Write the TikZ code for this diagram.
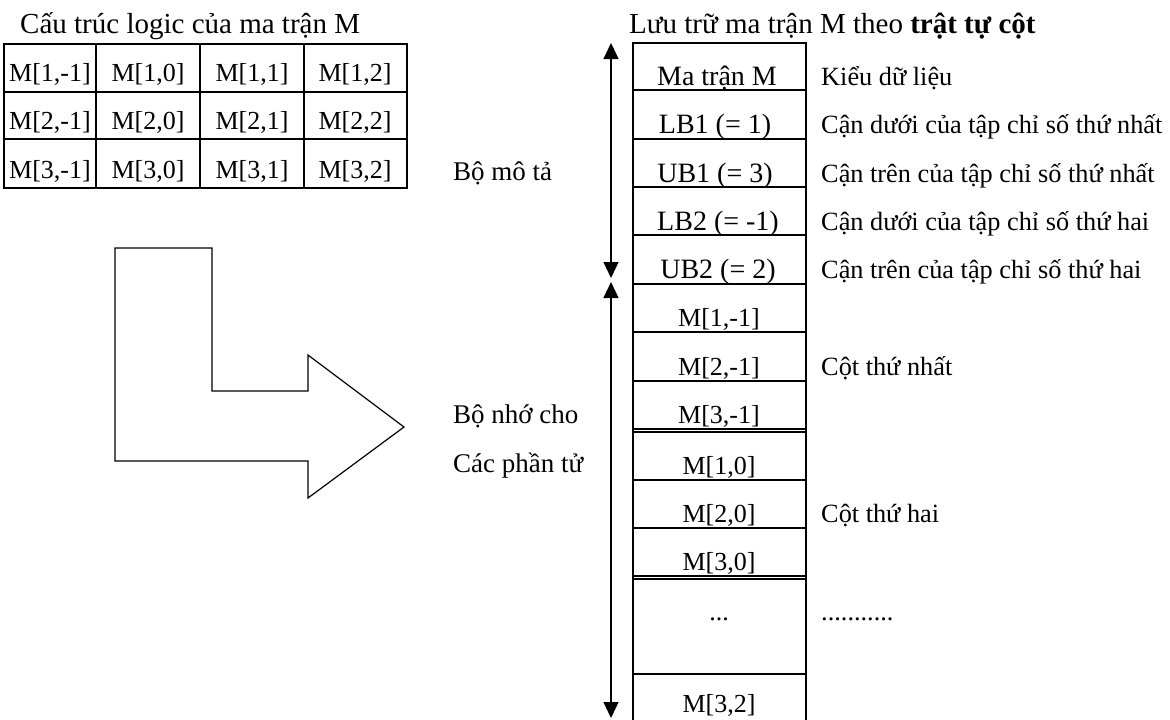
\documentclass[tikz,border=0pt]{standalone}
\usepackage{fontspec}
\setmainfont{Liberation Serif}
\usetikzlibrary{arrows.meta}
\begin{document}
\begin{tikzpicture}[x=1pt,y=-1pt,
  font=\fontsize{27}{32}\selectfont,
  rule/.style={line width=1.2pt},
  thickrule/.style={line width=2.6pt},
  celltext/.style={anchor=base, inner sep=0pt, font=\fontsize{26}{31}\selectfont},
  desctext/.style={anchor=base, inner sep=0pt, font=\fontsize{28}{33}\selectfont},
  sidetext/.style={anchor=base west, inner sep=0pt, font=\fontsize{26.3}{31}\selectfont},
  lefttext/.style={anchor=base west, inner sep=0pt},
  titletext/.style={anchor=base west, inner sep=0pt, font=\fontsize{29}{34}\selectfont},
  span/.style={line width=1.2pt,
    {Triangle[width=15pt,length=16pt]}-{Triangle[width=15pt,length=16pt]}}]
\useasboundingbox (0,0) rectangle (1170,720);

% ---------- logical structure of the matrix ----------
\node[titletext] (ltitle) at (20,33) {Cấu trúc logic của ma trận M};
\draw[rule] (4,44) rectangle (407,188);
\foreach \y in {92,139} \draw[rule] (4,\y) -- (407,\y);
\foreach \x in {96,200,304} \draw[rule] (\x,44) -- (\x,188);
\foreach \r/\yb in {1/81,2/129,3/178}{
  \foreach \c/\xc in {-1/50,0/148,1/252,2/355}{
    \node[celltext] (m\r\c) at (\xc,\yb) {M[\r,\c]};
  }
}

% ---------- L-shaped block arrow ----------
\draw[rule, line join=miter] (115,248) -- (212,248) -- (212,391) -- (308,391)
  -- (308,355) -- (404,427) -- (308,498) -- (308,461) -- (115,461) -- cycle;

% ---------- storage in column order ----------
\node[titletext] (rtitle) at (629,33) {Lưu trữ ma trận M theo \textbf{trật tự cột}};

% outer column
\draw[rule] (633,720) -- (633,43) -- (806,43) -- (806,720);
% row separators
\foreach \y in {90,139,187,235,332,381,429,432,480,528,576,579,674}
  \draw[rule] (633,\y) -- (806,\y);
\draw[thickrule] (633,284) -- (806,284);

% descriptor cells
\node[desctext] (d0) at (717,85)  {Ma trận M};
\node[desctext] (d1) at (715,133) {LB1 (= 1)};
\node[desctext] (d2) at (715,182) {UB1 (= 3)};
\node[desctext] (d3) at (718,230) {LB2 (= -1)};
\node[desctext] (d4) at (718,278) {UB2 (= 2)};

% element cells
\node[celltext] (e1) at (719,326) {M[1,-1]};
\node[celltext] (e2) at (719,375) {M[2,-1]};
\node[celltext] (e3) at (719,423) {M[3,-1]};
\node[celltext] (e4) at (719,474) {M[1,0]};
\node[celltext] (e5) at (719,522) {M[2,0]};
\node[celltext] (e6) at (719,570) {M[3,0]};
\node[celltext] (e7) at (719,620) {...};
\node[celltext] (e8) at (719,712) {M[3,2]};

% explanations on the right
\node[sidetext] (k0) at (821,85)  {Kiểu dữ liệu};
\node[sidetext] (k1) at (821,133) {Cận dưới của tập chỉ số thứ nhất};
\node[sidetext] (k2) at (821,182) {Cận trên của tập chỉ số thứ nhất};
\node[sidetext] (k3) at (821,230) {Cận dưới của tập chỉ số thứ hai};
\node[sidetext] (k4) at (821,278) {Cận trên của tập chỉ số thứ hai};
\node[sidetext] (c1) at (821,375) {Cột thứ nhất};
\node[sidetext] (c2) at (821,522) {Cột thứ hai};
\node[sidetext] (c3) at (821,620) {...........};

% labels on the left of the column
\node[lefttext] (desc) at (453,180) {Bộ mô tả};
\node[lefttext] (mem1) at (453,423) {Bộ nhớ cho};
\node[lefttext] (mem2) at (453,472) {Các phần tử};

% extent arrows
\coordinate (dtop) at (611,43);
\coordinate (dbot) at (611,278);
\coordinate (etop) at (611,282);
\coordinate (ebot) at (611,718);
\draw[span] (dtop) -- (dbot);
\draw[span] (etop) -- (ebot);
\end{tikzpicture}
\end{document}
